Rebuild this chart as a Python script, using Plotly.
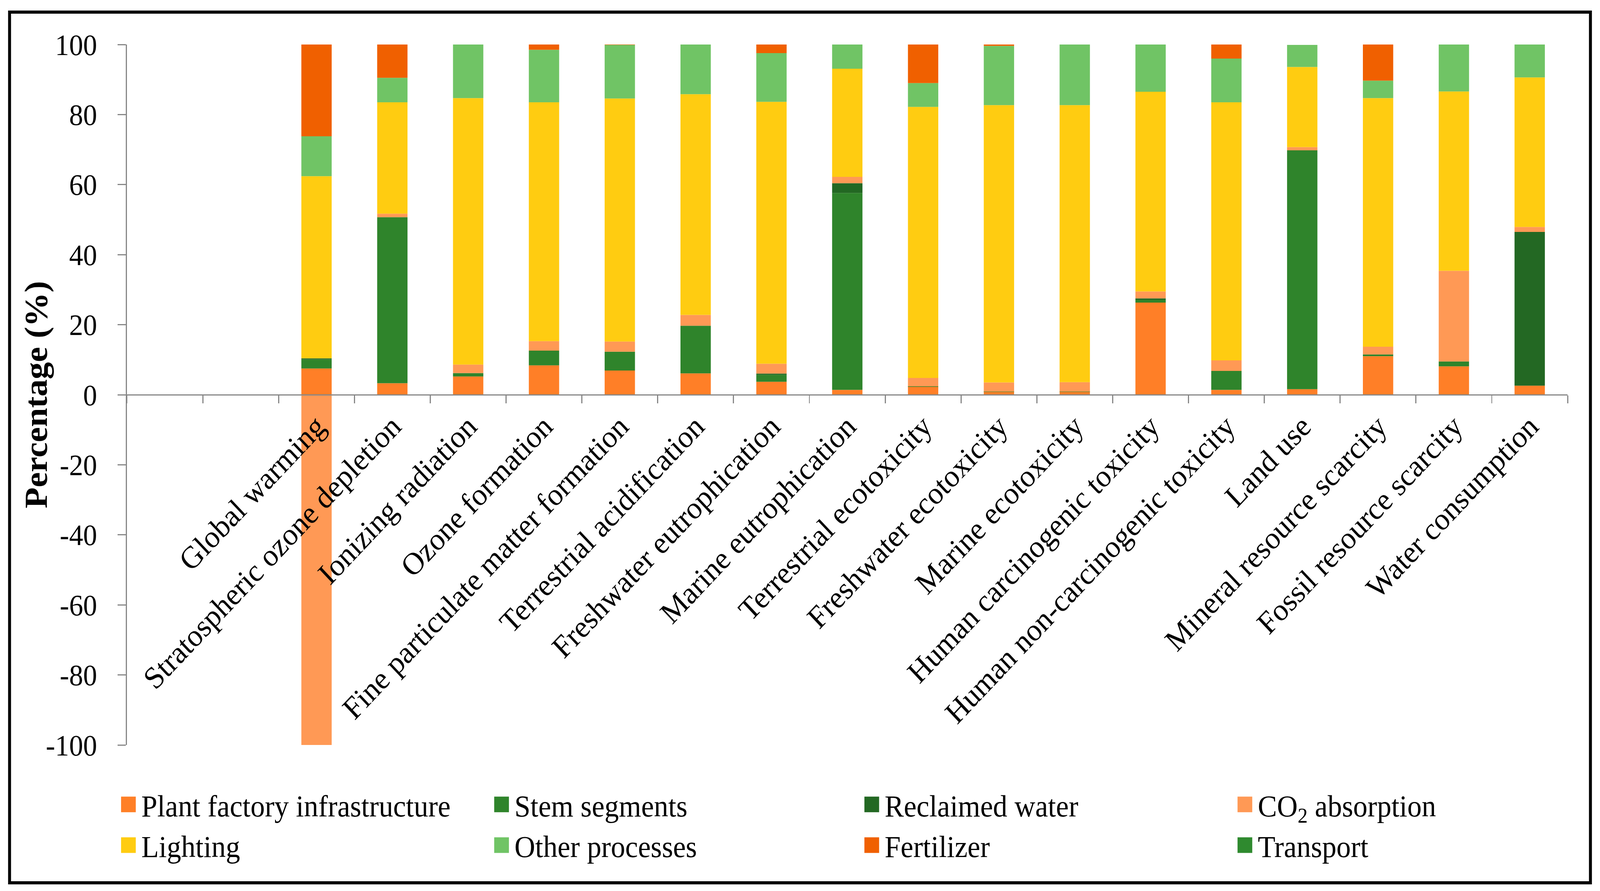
import plotly.graph_objects as go

# ---------------- data ----------------
categories = [
    "Global warming", "Stratospheric ozone depletion", "Ionizing radiation",
    "Ozone formation", "Fine particulate matter formation", "Terrestrial acidification",
    "Freshwater eutrophication", "Marine eutrophication", "Terrestrial ecotoxicity",
    "Freshwater ecotoxicity", "Marine ecotoxicity", "Human carcinogenic toxicity",
    "Human non-carcinogenic toxicity", "Land use", "Mineral resource scarcity",
    "Fossil resource scarcity", "Water consumption",
]
blank_slots = [" ", "  "]  # two empty category slots before the first bar

plant_factory = [7.5, 3.3, 5.2, 8.4, 6.9, 6.1, 3.7, 1.4, 2.3, 0.8, 0.8, 26.3, 1.4, 1.6, 11.0, 8.1, 2.6]
stem_segments = [2.6, 47.4, 1.0, 4.2, 5.4, 13.6, 2.0, 56.2, 0.1, 0.1, 0.1, 0.8, 5.4, 68.2, 0.5, 1.4, 0.0]
reclaimed_water = [0.3, 0.0, 0.0, 0.0, 0.0, 0.0, 0.35, 2.8, 0.0, 0.0, 0.0, 0.4, 0.0, 0.0, 0.0, 0.0, 43.9]
co2_absorption = [-100.0, 1.0, 2.4, 2.7, 2.9, 3.1, 2.8, 1.8, 2.4, 2.6, 2.7, 2.0, 3.0, 0.9, 2.2, 25.9, 1.4]
lighting = [52.0, 31.8, 76.1, 68.2, 69.4, 63.0, 74.8, 30.9, 77.4, 79.2, 79.1, 57.0, 73.7, 22.9, 71.0, 51.2, 42.7]
other_processes = [11.4, 7.0, 15.3, 15.0, 15.3, 14.2, 13.9, 6.9, 6.8, 16.9, 17.3, 13.5, 12.5, 6.3, 5.0, 13.4, 9.4]
fertilizer = [26.2, 9.5, 0.0, 1.5, 0.1, 0.0, 2.5, 0.0, 11.1, 0.4, 0.0, 0.0, 4.0, 0.0, 10.3, 0.0, 0.0]
transport = [0.0, 0.0, 0.0, 0.0, 0.0, 0.0, 0.0, 0.0, 0.0, 0.0, 0.0, 0.0, 0.0, 0.0, 0.0, 0.0, 0.0]

series_names = [
    "Plant factory infrastructure", "Stem segments", "Reclaimed water", "CO<sub>2</sub> absorption",
    "Lighting", "Other processes", "Fertilizer", "Transport",
]
series_values = [plant_factory, stem_segments, reclaimed_water, co2_absorption,
                 lighting, other_processes, fertilizer, transport]

y_tick_values = [100, 80, 60, 40, 20, 0, -20, -40, -60, -80, -100]
y_tick_labels = ["100", "80", "60", "40", "20", "0", "-20", "-40", "-60", "-80", "-100"]

# ---------------- styling ----------------
colors = ["#FF7F27", "#2F842B", "#236823", "#FF9955",
          "#FFCC11", "#70C465", "#F06000", "#2F8A2F"]
legend_ids = ["legend", "legend2", "legend3", "legend4",
              "legend", "legend2", "legend3", "legend4"]

W, H = 4348, 2282
L, R, T, B = 345, 88, 114, 374
PW, PH = W - L - R, H - T - B
FONT = "Liberation Serif"

def px_x(px):
    return (px - L) / PW

def px_y(py):
    return (H - B - py) / PH

fig = go.Figure()
for name, vals, col, lg in zip(series_names, series_values, colors, legend_ids):
    fig.add_trace(go.Bar(
        x=categories, y=vals, name=name, marker=dict(color=col, line=dict(width=0)),
        legend=lg,
    ))

legend_common = dict(
    orientation="v", traceorder="normal", xanchor="left", yanchor="top",
    font=dict(family=FONT, size=78, color="black"), bgcolor="rgba(0,0,0,0)",
    borderwidth=0, tracegroupgap=0, itemclick=False, itemdoubleclick=False,
    itemwidth=60,
)
legend_cols_px = [314, 1328, 2334, 3348]
legend_top_px = 2003

fig.update_layout(
    width=W, height=H,
    margin=dict(l=L, r=R, t=T, b=B, autoexpand=False),
    barmode="relative", bargap=0.6,
    plot_bgcolor="white", paper_bgcolor="white",
    font=dict(family=FONT, size=80, color="black"),
    xaxis=dict(
        type="category", categoryorder="array", categoryarray=blank_slots + categories,
        range=[-0.5, len(blank_slots) + len(categories) - 0.5],
        anchor="free", position=0.5,
        showline=True, linecolor="#878787", linewidth=3,
        ticks="outside", tickson="boundaries", ticklen=20, tickwidth=3, tickcolor="#878787",
        tickangle=-45, tickfont=dict(family=FONT, size=80, color="black"),
        showgrid=False, zeroline=False, fixedrange=True,
    ),
    yaxis=dict(
        range=[-100, 100], tickmode="array", tickvals=y_tick_values, ticktext=y_tick_labels,
        showline=True, linecolor="#878787", linewidth=3,
        ticks="outside", ticklen=23, tickwidth=3, tickcolor="#878787",
        ticklabelstandoff=40,
        tickfont=dict(family=FONT, size=76, color="black"),
        showgrid=False, zeroline=False, fixedrange=True,
    ),
    showlegend=True,
    legend=dict(legend_common, x=px_x(legend_cols_px[0]), y=px_y(legend_top_px)),
    legend2=dict(legend_common, x=px_x(legend_cols_px[1]), y=px_y(legend_top_px)),
    legend3=dict(legend_common, x=px_x(legend_cols_px[2]), y=px_y(legend_top_px)),
    legend4=dict(legend_common, x=px_x(legend_cols_px[3]), y=px_y(legend_top_px)),
    annotations=[dict(
        text="<b>Percentage (%)</b>", xref="paper", yref="paper",
        x=px_x(97), y=0.5, xanchor="center", yanchor="middle", textangle=-90,
        showarrow=False, font=dict(family=FONT, size=88, color="black"),
    )],
    shapes=[dict(
        type="rect", xref="paper", yref="paper",
        x0=px_x(26), x1=px_x(4322), y0=px_y(2261), y1=px_y(31),
        line=dict(color="black", width=8), fillcolor="rgba(0,0,0,0)", layer="above",
    )],
)

post = """
document.body.style.margin = '0';
document.body.style.overflow = 'hidden';
var gd = document.getElementById('{plot_id}');
// larger legend swatches (Excel-like 40px squares)
gd.querySelectorAll('g.legendpoints path').forEach(function(p) {
    p.setAttribute('transform', 'translate(35,0) scale(3.333)');
});
// fit the fixed-size figure into the actual viewport
var sx = window.innerWidth / %d, sy = window.innerHeight / %d;
if (Math.abs(sx - 1) > 0.002 || Math.abs(sy - 1) > 0.002) {
    gd.style.transformOrigin = '0 0';
    gd.style.transform = 'scale(' + sx + ',' + sy + ')';
}
""" % (W, H)

fig.write_html("out.html", post_script=post, config={"displayModeBar": False})
